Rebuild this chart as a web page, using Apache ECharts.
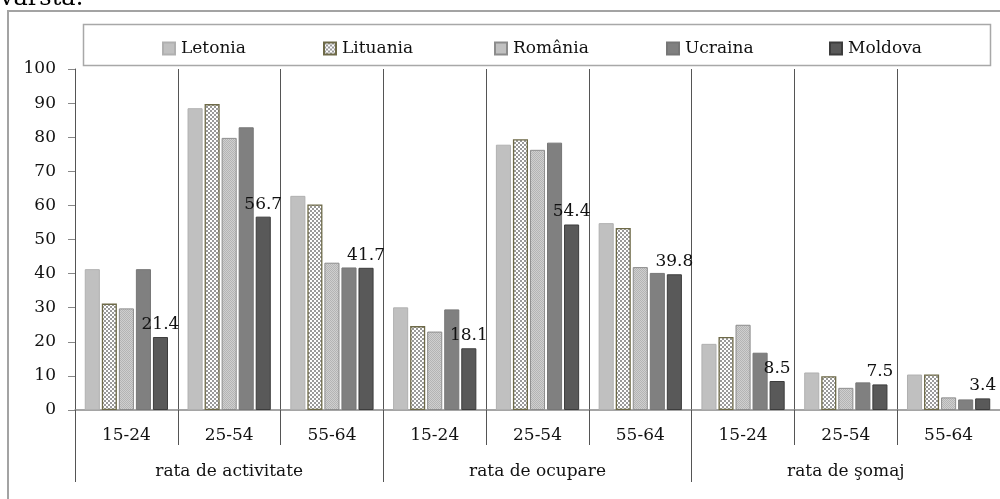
<!DOCTYPE html>
<html>
<head>
<meta charset="utf-8">
<script src="https://cdn.jsdelivr.net/npm/echarts@6/dist/echarts.min.js"></script>
<style>html,body{margin:0;padding:0;background:#fff;}#c{width:1000px;height:499px;}</style>
</head>
<body>
<div id="c"></div>
<script>
const ageLabels = ['15-24','25-54','55-64','15-24','25-54','55-64','15-24','25-54','55-64'];
const groupLabels = ['rata de activitate','rata de ocupare','rata de şomaj'];
const seriesNames = ['Letonia','Lituania','România','Ucraina','Moldova'];
const letonia  = [41.3, 88.5, 62.8, 30.1, 77.8, 54.8, 19.4, 11.0, 10.4];
const lituania = [31.2, 89.7, 60.3, 24.6, 79.4, 53.4, 21.4, 9.9, 10.4];
const romania  = [29.8, 79.8, 43.2, 23.0, 76.3, 41.9, 25.0, 6.5, 3.7];
const ucraina  = [41.3, 82.9, 41.8, 29.5, 78.4, 40.2, 16.8, 8.1, 3.1];
const moldova  = [21.4, 56.7, 41.7, 18.1, 54.4, 39.8, 8.5, 7.5, 3.4];
const yTicks = [0,10,20,30,40,50,60,70,80,90,100];

function pattern(draw, size) {
  const c = document.createElement('canvas');
  c.width = size; c.height = size;
  draw(c.getContext('2d'));
  return { image: c, repeat: 'repeat' };
}
const checker = pattern(ctx => {
  ctx.fillStyle = '#ffffff'; ctx.fillRect(0,0,4,4);
  ctx.fillStyle = '#9a9a9a'; ctx.fillRect(0,0,2,2); ctx.fillRect(2,2,2,2);
}, 4);
const dotted = pattern(ctx => {
  ctx.fillStyle = '#cfcfcf'; ctx.fillRect(0,0,2,2);
  ctx.fillStyle = '#b4b4b4'; ctx.fillRect(0,0,1,1); ctx.fillRect(1,1,1,1);
}, 2);

const FONT = 'DejaVu Serif';
const TXT = '#111';
const chart = echarts.init(document.getElementById('c'));
const styles = [
  { color: '#c0c0c0', borderColor: '#b0b0b0', borderWidth: 1 },
  { color: checker, borderColor: '#6e6a48', borderWidth: 1.3 },
  { color: dotted, borderColor: '#8c8c8c', borderWidth: 1 },
  { color: '#808080', borderColor: '#767676', borderWidth: 1 },
  { color: '#595959', borderColor: '#3c3c3c', borderWidth: 1 }
];
const datas = [letonia, lituania, romania, ucraina, moldova];
const series = seriesNames.map((n, i) => ({
  name: n, type: 'bar', data: datas[i], xAxisIndex: 0,
  barGap: '13%', barCategoryGap: '19%',
  itemStyle: styles[i],
  label: i === 4 ? { show: true, position: 'top', distance: 4, color: TXT, fontFamily: FONT, fontSize: 17 } : { show: false },
  emphasis: { disabled: true }
}));
const legendLefts = [157, 318, 489, 661, 824];
const legends = seriesNames.map((n, i) => ({
  data: [{ name: n, icon: 'rect' }], left: legendLefts[i], top: 35,
  itemWidth: 12, itemHeight: 12, itemGap: 6, selectedMode: false,
  textStyle: { fontFamily: FONT, fontSize: 17, color: TXT, padding: [0,0,0,1] }
}));

chart.setOption({
  animation: false,
  backgroundColor: '#fff',
  graphic: [
    { type: 'rect', shape: { x: 8, y: 11, width: 1000, height: 500 }, style: { fill: 'none', stroke: '#a3a3a3', lineWidth: 2 }, silent: true },
    { type: 'rect', shape: { x: 83.5, y: 24.5, width: 907, height: 41 }, style: { fill: 'none', stroke: '#a8a8a8', lineWidth: 1.5 }, silent: true },
    { type: 'text', left: 0, top: -13, style: { text: 'vârsta:', fontFamily: FONT, fontSize: 24, fill: '#000' }, silent: true }
  ],
  legend: legends,
  grid: { left: 75, top: 69, width: 927, bottom: 89 },
  xAxis: [
    { type: 'category', data: ageLabels, position: 'bottom',
      axisLine: { show: true, lineStyle: { color: '#888', width: 1.5 } },
      axisTick: { show: true, length: 35, interval: 0, lineStyle: { color: '#555' } },
      splitLine: { show: true, interval: 0, lineStyle: { color: '#555', width: 1 } },
      axisLabel: { interval: 0, margin: 17, fontFamily: FONT, fontSize: 17, color: TXT } },
    { type: 'category', data: groupLabels, position: 'bottom',
      axisLine: { show: false },
      axisTick: { show: true, length: 72, interval: 0, lineStyle: { color: '#555' } },
      axisLabel: { interval: 0, margin: 53, fontFamily: FONT, fontSize: 17, color: TXT } }
  ],
  yAxis: {
    type: 'value', min: 0, max: 100, interval: 10,
    axisLine: { show: true, lineStyle: { color: '#555' } },
    axisTick: { show: true, length: 7, lineStyle: { color: '#888' } },
    splitLine: { show: false },
    axisLabel: { margin: 19, fontFamily: FONT, fontSize: 17, color: TXT,
      formatter: v => yTicks.includes(v) ? String(v) : '' }
  },
  series: series
});
</script>
</body>
</html>
